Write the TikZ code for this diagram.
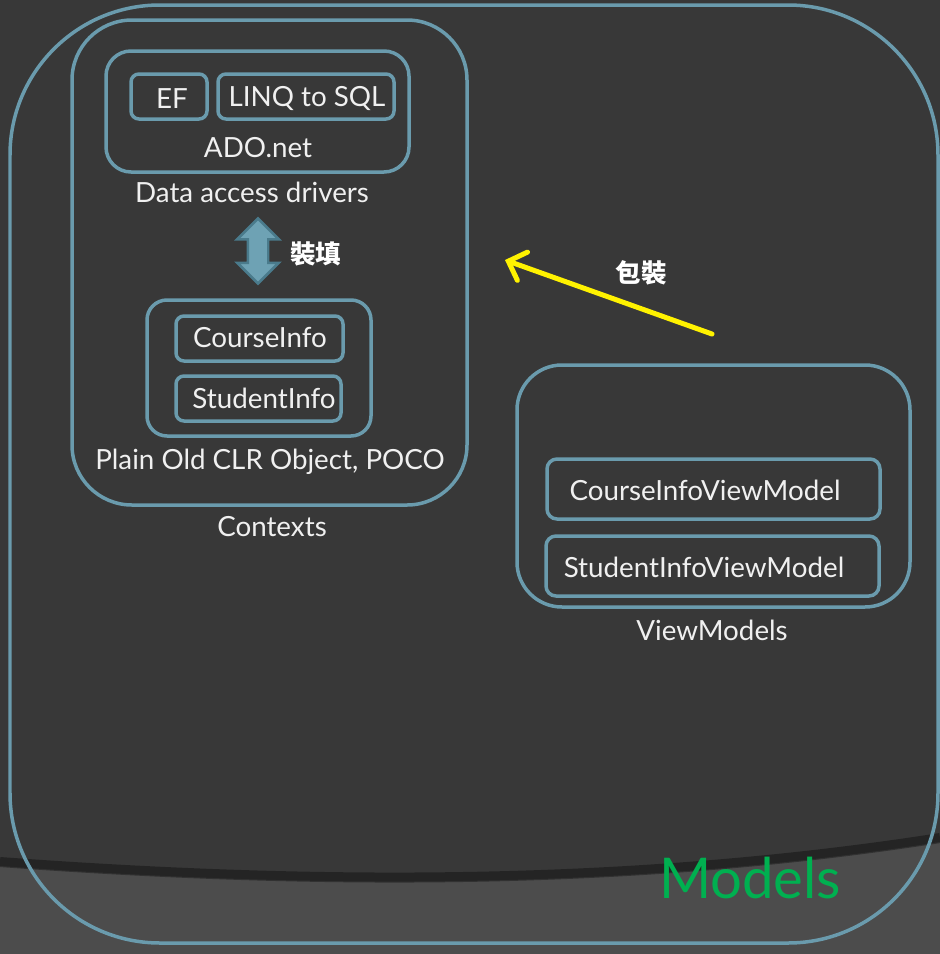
\documentclass[tikz,border=0pt]{standalone}
\usepackage{fontspec}
\setmainfont{Lato}
\newfontfamily\cjk{Noto Sans CJK TC}
\usetikzlibrary{shapes.arrows}
\usetikzlibrary{arrows.meta}
\usepackage{xcolor}
\definecolor{bgdark}{HTML}{383838}
\definecolor{bgband}{HTML}{4C4C4C}
\definecolor{frameblue}{HTML}{6A9BAD}
\definecolor{arrowblue}{HTML}{6EA2B4}
\definecolor{arrowedge}{HTML}{4A7B8C}
\definecolor{modelgreen}{HTML}{00B050}
\tikzset{
	frame box/.style={draw=frameblue, line width=0.07cm, inner sep=0pt},
	label text/.style={text=white!94!black, font=\fontsize{15.8}{18}\selectfont, inner sep=0pt},
	cjk text/.style={text=white, font=\cjk\bfseries\fontsize{14.5}{16}\selectfont, inner sep=0pt}
}
\newcommand{\rbox}[6] % name, left, top, right, bottom, radius (all in px)
{
	\node[frame box, rounded corners={#6*0.02cm}, minimum width={(#4-#2)*0.02cm}, minimum height={(#5-#3)*0.02cm}] (#1) at ({(#2+#4)/2},{(#3+#5)/2}) {};
}
\newcommand{\lbl}[4] % name, x, y, text
{
	\node[label text] (#1) at (#2,#3) {#4};
}

\begin{document}
\begin{tikzpicture}[x=0.02cm, y=-0.02cm]
	% 940px x 954px, 1px = 0.02cm
	\useasboundingbox (0,0) rectangle (940,954);
	\fill[bgdark] (0,0) rectangle (940,954);
	% lower band with its shadow
	\fill[bgband] (0,866) .. controls (300,888) and (620,892) .. (940,842) -- (940,954) -- (0,954) -- cycle;
	\draw[black, opacity=0.35, line width=0.2cm] (0,862) .. controls (300,884) and (620,888) .. (940,838);
	
	% outer frame
	\rbox{models}{10}{5}{938}{943}{150};
	
	% contexts
	\rbox{contexts}{72}{20}{467}{505}{60};
	\rbox{ado}{106}{51}{409}{172}{25};
	\rbox{ef}{131}{74}{207}{119}{8};
	\rbox{linq}{218}{74}{394}{119}{8};
	\lbl{eftext}{172}{99}{EF};
	\lbl{linqtext}{307}{98}{LINQ to SQL};
	\lbl{adotext}{258}{148}{ADO.net};
	\lbl{drivers}{252}{192}{Data access drivers};
	
	% fill arrow
	\node[double arrow, rotate=90, fill=arrowblue, draw=arrowedge, line width=0.05cm, minimum height=1.3cm, inner sep=0.18cm, double arrow head extend=0.21cm] (fill) at (258,251) {};
	\node[cjk text, anchor=west] (filltext) at (290,254) {裝填};
	
	\rbox{poco}{147}{300}{371}{436}{20};
	\rbox{course}{176}{316}{343}{361}{8};
	\rbox{student}{176}{376}{341}{421}{8};
	\lbl{coursetext}{260}{338}{CourseInfo};
	\lbl{studenttext}{264}{398}{StudentInfo};
	\lbl{pocotext}{270}{462}{Plain Old CLR Object, POCO};
	\lbl{contextstext}{272}{527}{Contexts};
	
	% view models
	\rbox{viewmodels}{517}{365}{910}{607}{45};
	\rbox{coursevm}{547}{459}{880}{519}{10};
	\rbox{studentvm}{546}{536}{879}{596}{10};
	\lbl{coursevmtext}{705}{490}{CourseInfoViewModel};
	\lbl{studentvmtext}{704}{567}{StudentInfoViewModel};
	\lbl{viewmodelstext}{712}{630}{ViewModels};
	
	% wrap arrow
	\coordinate (wrapfrom) at (712,334);
	\coordinate (wrapto) at (505,260);
	\draw[yellow, line width=0.1cm, line cap=round, -{Straight Barb[length=0.3cm, width=0.6cm, line cap=round]}] (wrapfrom) -- (wrapto);
	\node[cjk text] (wraptext) at (641,273) {包裝};
	
	% title
	\node[text=modelgreen, font=\fontsize{32}{36}\selectfont, inner sep=0pt] (title) at (750,878) {Models};
\end{tikzpicture}
\end{document}
